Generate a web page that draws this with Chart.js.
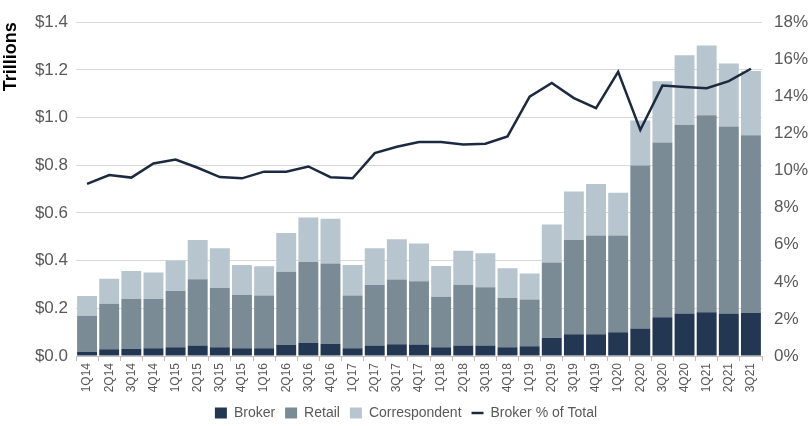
<!DOCTYPE html>
<html>
<head>
<meta charset="utf-8">
<script src="https://cdn.jsdelivr.net/npm/chart.js@4.4.0/dist/chart.umd.min.js"></script>
<style>
  html, body { margin: 0; padding: 0; background: #fff; overflow: hidden; }
</style>
</head>
<body>
<canvas id="myChart" width="812" height="426"></canvas>
<script>
// quarters on the x axis
const quarters = ['1Q14','2Q14','3Q14','4Q14','1Q15','2Q15','3Q15','4Q15','1Q16','2Q16','3Q16','4Q16',
    '1Q17','2Q17','3Q17','4Q17','1Q18','2Q18','3Q18','4Q18','1Q19','2Q19','3Q19','4Q19',
    '1Q20','2Q20','3Q20','4Q20','1Q21','2Q21','3Q21'];

// volumes, $ trillions
const broker = [0.018,0.028,0.030,0.033,0.037,0.044,0.037,0.032,0.032,0.047,0.055,0.051,
    0.032,0.044,0.049,0.048,0.037,0.044,0.044,0.037,0.041,0.077,0.091,0.091,
    0.100,0.115,0.163,0.178,0.183,0.178,0.181];
const retail = [0.151,0.191,0.209,0.206,0.236,0.278,0.248,0.225,0.222,0.306,0.339,0.337,
    0.222,0.254,0.272,0.265,0.211,0.255,0.244,0.206,0.196,0.315,0.396,0.414,
    0.405,0.684,0.732,0.792,0.827,0.785,0.745];
const correspondent = [0.083,0.105,0.118,0.111,0.128,0.165,0.167,0.125,0.122,0.163,0.187,0.188,
    0.128,0.154,0.169,0.159,0.129,0.142,0.143,0.125,0.109,0.160,0.203,0.216,
    0.180,0.189,0.257,0.291,0.292,0.264,0.269];

// broker share, percent (right axis)
const brokerPct = [9.28,9.76,9.62,10.38,10.59,10.15,9.65,9.58,9.94,9.94,10.22,9.64,
    9.58,10.94,11.28,11.54,11.54,11.40,11.45,11.84,13.99,14.72,13.91,13.36,
    15.32,12.19,14.58,14.51,14.44,14.82,15.49];

const sans = "'Liberation Sans Narrow', 'Arial Narrow', 'Liberation Sans', Arial, sans-serif";
const grey = '#595959';

const data = {
    labels: quarters,
    datasets: [
        {label: 'Broker', data: broker, backgroundColor: '#243752', yAxisID: 'y', order: 1,
         barPercentage: 0.9, categoryPercentage: 1.0},
        {label: 'Retail', data: retail, backgroundColor: '#7b8b96', yAxisID: 'y', order: 1,
         barPercentage: 0.9, categoryPercentage: 1.0},
        {label: 'Correspondent', data: correspondent, backgroundColor: '#b7c6ce', yAxisID: 'y', order: 1,
         barPercentage: 0.9, categoryPercentage: 1.0},
        // order 0 so the line is drawn over the bars
        {label: 'Broker % of Total', type: 'line', data: brokerPct, yAxisID: 'y1', order: 0,
         borderColor: '#1c2a40', backgroundColor: '#1c2a40', borderWidth: 2.5,
         pointRadius: 0, tension: 0}
    ]
};

const config = {
    type: 'bar',
    data: data,
    options: {
        responsive: false,
        animation: false,
        layout: {padding: {top: 7, left: 0, right: 0, bottom: 0}},
        plugins: {
            tooltip: {enabled: false},
            legend: {
                position: 'bottom',
                maxHeight: 30,
                labels: {
                    usePointStyle: true,
                    boxHeight: 11,
                    pointStyleWidth: 12,
                    padding: 10,
                    color: grey,
                    font: {family: sans, size: 14},
                    sort: (a, b) => a.datasetIndex - b.datasetIndex,
                    generateLabels: function(chart) {
                        return chart.data.datasets.map(function(ds, i) {
                            const isLine = ds.type === 'line';
                            return {
                                text: ds.label,
                                datasetIndex: i,
                                fillStyle: isLine ? ds.borderColor : ds.backgroundColor,
                                strokeStyle: isLine ? ds.borderColor : ds.backgroundColor,
                                lineWidth: isLine ? 2.5 : 0,
                                pointStyle: isLine ? 'line' : 'rect',
                                fontColor: grey,
                                hidden: false
                            };
                        });
                    }
                }
            }
        },
        scales: {
            x: {
                stacked: true,
                grid: {display: true, drawOnChartArea: false, offset: true, color: '#bfbfbf', tickLength: 5},
                border: {display: true, color: '#bfbfbf'},
                ticks: {minRotation: 90, maxRotation: 90, autoSkip: false, padding: 2,
                        color: grey, font: {family: sans, size: 12}},
                afterFit: s => { s.height = 40; }
            },
            y: {
                stacked: true,
                position: 'left',
                min: 0, max: 1.4,
                grid: {color: '#d9d9d9', drawTicks: false},
                border: {display: false},
                title: {display: true, text: 'Trillions', align: 'end', color: '#000',
                        font: {family: "'Liberation Sans', Arial, sans-serif", size: 18, weight: 'bold'},
                        padding: {top: 0, bottom: 0}},
                ticks: {stepSize: 0.2, padding: 8, color: grey, font: {family: sans, size: 17},
                        callback: v => '$' + v.toFixed(1)},
                afterFit: s => { s.width = 76; }
            },
            y1: {
                position: 'right',
                min: 0, max: 18,
                grid: {display: false, drawTicks: false},
                border: {display: false},
                ticks: {stepSize: 2, padding: 12, color: grey, font: {family: sans, size: 17},
                        callback: v => v + '%'},
                afterFit: s => { s.width = 50; }
            }
        }
    }
};

let myChart = new Chart(document.getElementById('myChart'), config);
</script>
</body>
</html>
